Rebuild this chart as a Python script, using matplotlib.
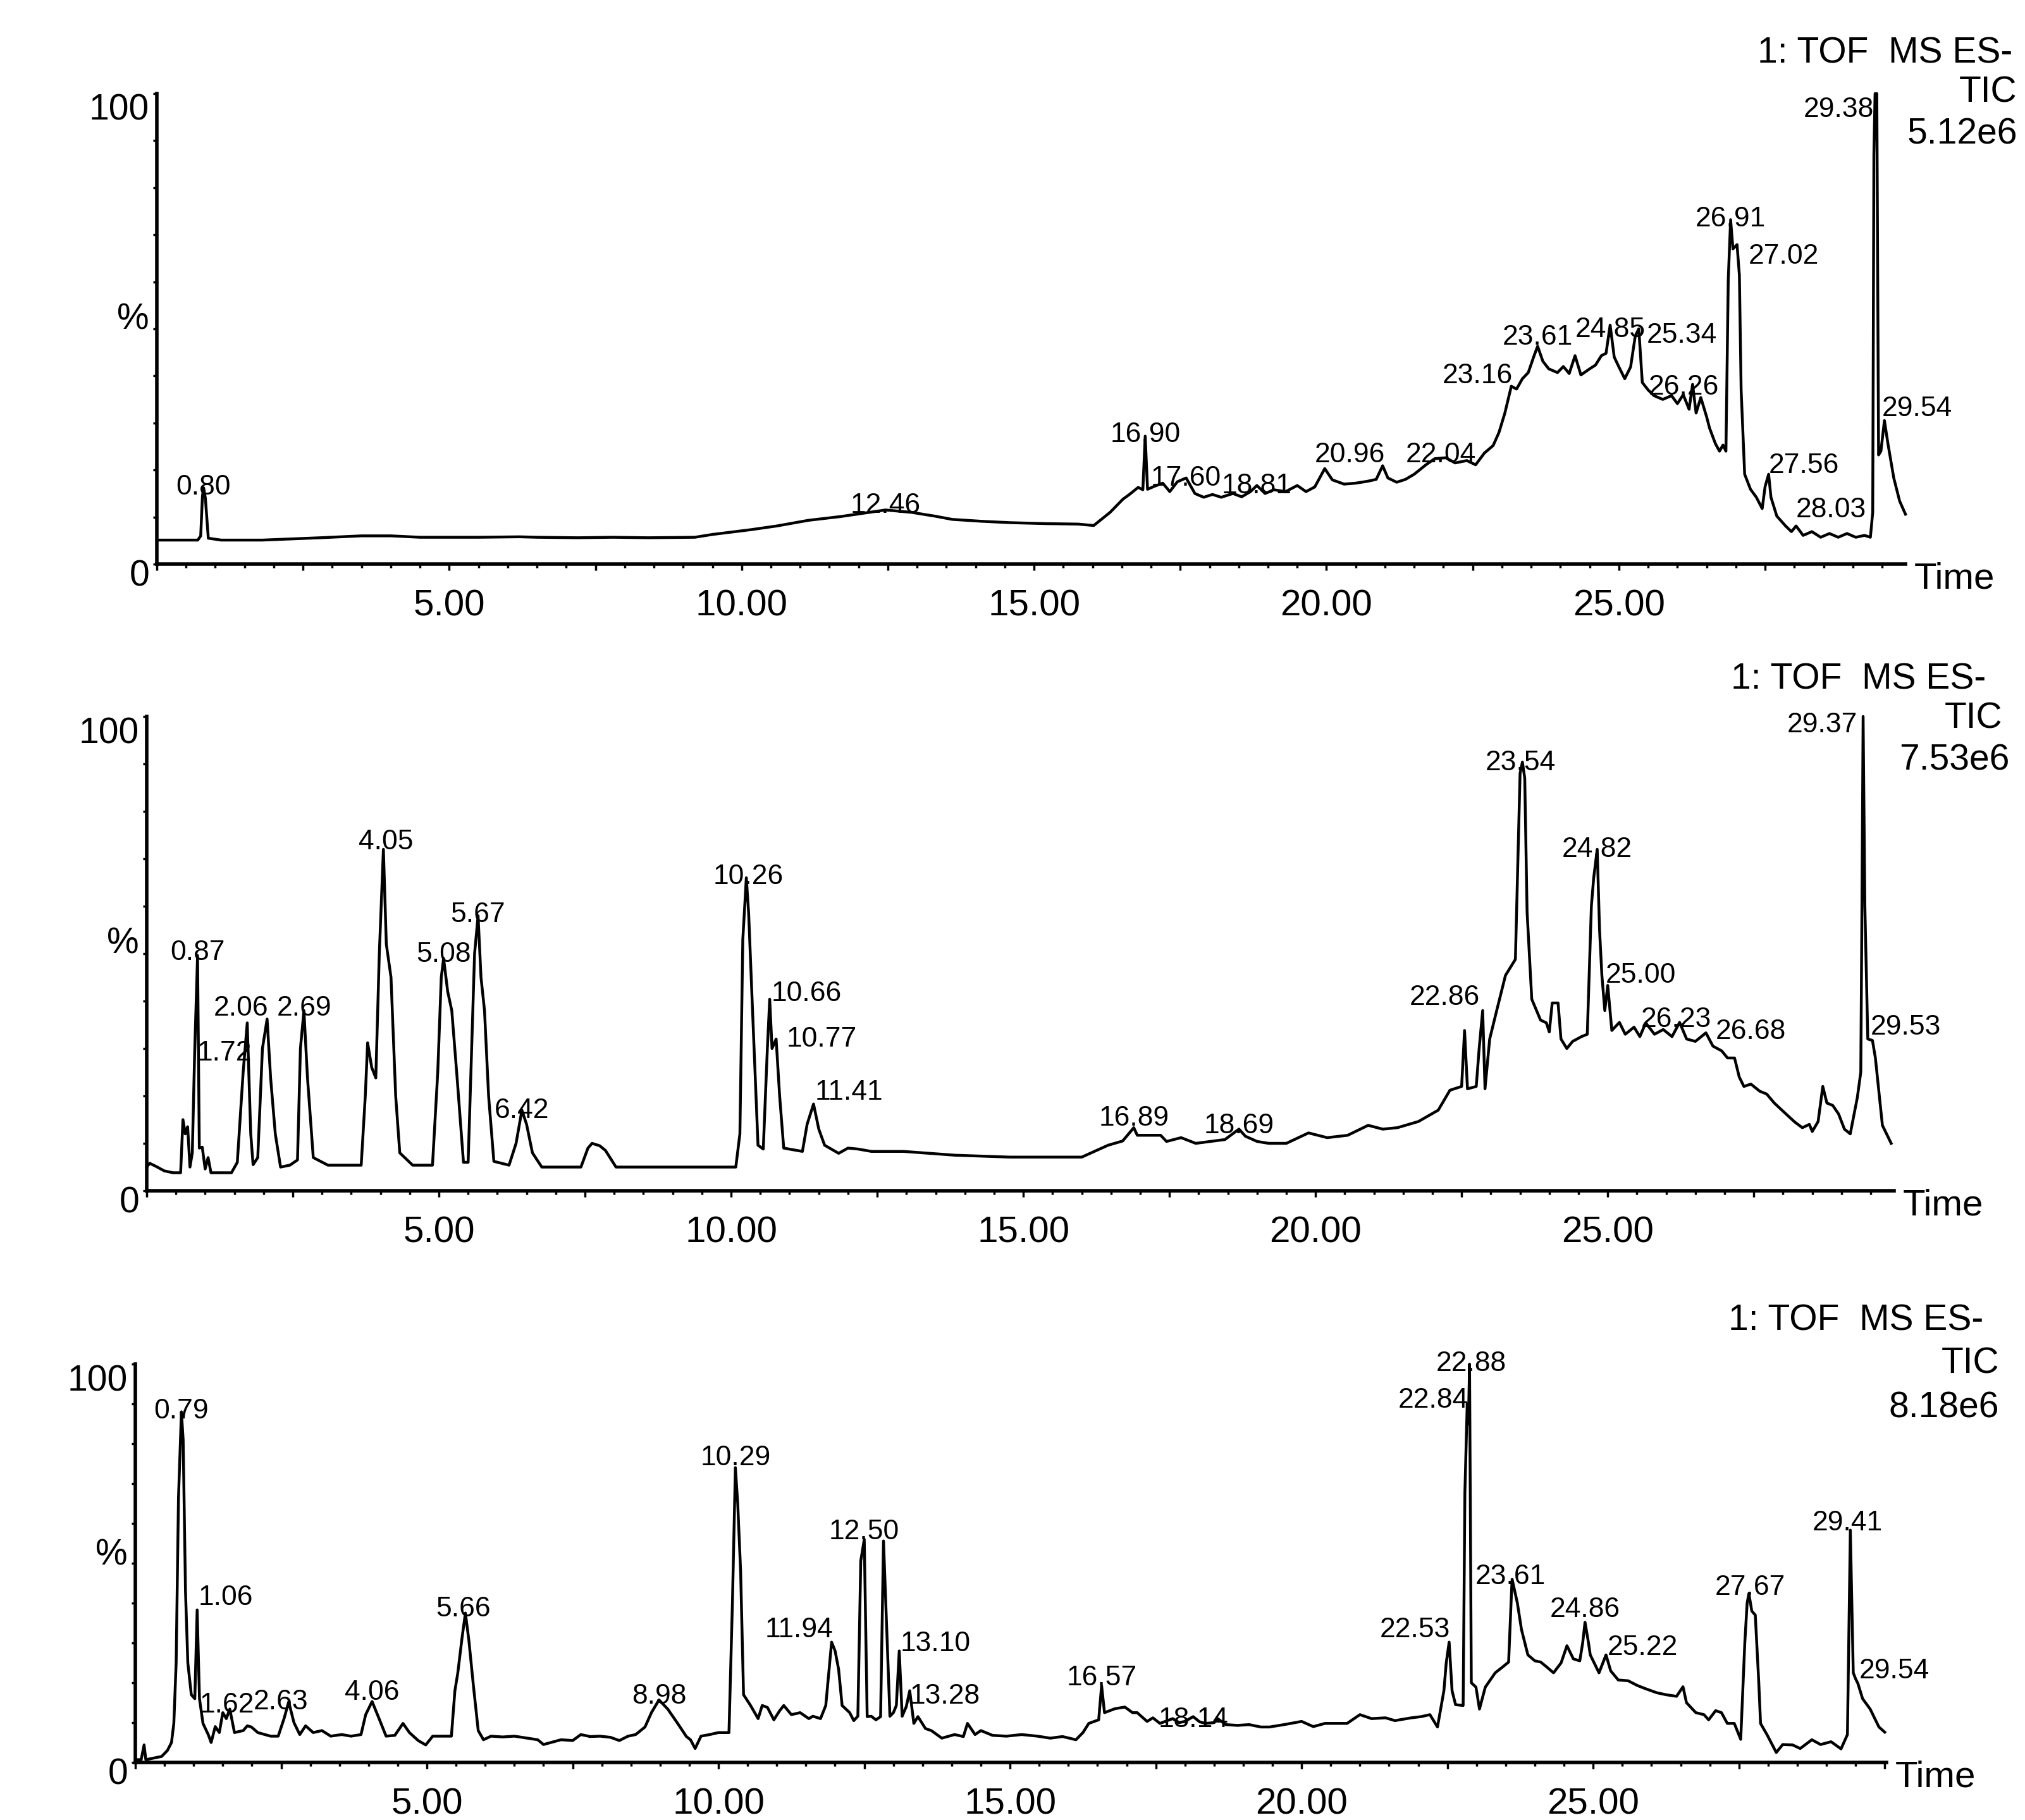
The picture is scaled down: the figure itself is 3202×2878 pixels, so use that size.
import matplotlib
matplotlib.use("Agg")
import matplotlib.pyplot as plt
import matplotlib.transforms as mtransforms
from matplotlib.ticker import MultipleLocator, FuncFormatter
import numpy as np

plt.rcParams['font.family'] = ['Liberation Sans', 'DejaVu Sans']

# ---- chromatogram 1 (TIC 5.12e6) ----
rt_a = [0.00, 0.70, 0.75, 0.78, 0.80, 0.83, 0.88, 1.10, 1.80, 2.80,
        3.50, 4.00, 4.50, 5.50, 6.20, 6.50, 7.20, 7.80, 8.40, 9.20,
        9.50, 10.15, 10.60, 11.14, 11.69, 12.13, 12.46, 12.90, 13.30, 13.60,
        14.10, 14.60, 15.20, 15.75, 16.02, 16.30, 16.52, 16.63, 16.78, 16.86,
        16.90, 16.94, 17.05, 17.20, 17.32, 17.45, 17.60, 17.75, 17.90, 18.05,
        18.20, 18.40, 18.55, 18.70, 18.81, 18.95, 19.10, 19.30, 19.50, 19.65,
        19.80, 19.97, 20.10, 20.30, 20.50, 20.70, 20.85, 20.96, 21.05, 21.20,
        21.35, 21.50, 21.70, 21.85, 22.04, 22.20, 22.40, 22.55, 22.70, 22.85,
        22.95, 23.05, 23.16, 23.25, 23.35, 23.45, 23.55, 23.61, 23.70, 23.80,
        23.95, 24.05, 24.15, 24.25, 24.35, 24.50, 24.60, 24.70, 24.78, 24.85,
        24.92, 25.00, 25.10, 25.20, 25.28, 25.34, 25.40, 25.50, 25.60, 25.75,
        25.90, 26.00, 26.10, 26.20, 26.26, 26.32, 26.40, 26.50, 26.55, 26.65,
        26.72, 26.78, 26.83, 26.87, 26.91, 26.95, 27.02, 27.06, 27.09, 27.15,
        27.25, 27.35, 27.45, 27.50, 27.56, 27.60, 27.70, 27.85, 27.95, 28.03,
        28.15, 28.30, 28.45, 28.60, 28.75, 28.90, 29.05, 29.20, 29.30, 29.34,
        29.36, 29.38, 29.41, 29.44, 29.48, 29.54, 29.60, 29.70, 29.80, 29.90]
tic_a = [5.1, 5.1, 6.0, 14.5, 16.2, 14.0, 5.5, 5.1, 5.1, 5.6,
         6.0, 6.0, 5.7, 5.7, 5.8, 5.7, 5.6, 5.7, 5.6, 5.7,
         6.3, 7.3, 8.1, 9.3, 10.1, 10.9, 11.5, 11.0, 10.2, 9.5,
         9.1, 8.8, 8.6, 8.5, 8.2, 11.0, 13.8, 14.8, 16.3, 15.8,
         27.2, 15.9, 16.5, 17.2, 15.4, 17.5, 18.3, 15.0, 14.2, 14.8,
         14.2, 15.0, 14.3, 15.4, 16.7, 15.0, 15.8, 15.4, 16.7, 15.4,
         16.4, 20.3, 17.9, 17.0, 17.2, 17.6, 18.0, 20.9, 18.3, 17.4,
         18.0, 19.1, 21.1, 22.4, 22.6, 21.5, 22.0, 21.1, 23.6, 25.2,
         28.0, 32.1, 37.8, 37.2, 39.4, 40.7, 44.3, 46.3, 43.1, 41.5,
         40.7, 42.0, 40.5, 44.3, 40.2, 41.5, 42.3, 44.3, 44.8, 50.8,
         44.0, 41.9, 39.4, 41.9, 48.5, 50.0, 38.6, 37.0, 35.8, 35.0,
         35.8, 34.1, 36.0, 32.9, 38.2, 32.1, 35.4, 31.3, 28.9, 25.6,
         24.0, 25.3, 24.0, 60.6, 73.2, 67.0, 67.9, 61.4, 37.0, 19.1,
         15.9, 14.2, 11.8, 16.5, 19.1, 14.2, 10.2, 8.1, 6.9, 8.1,
         6.1, 6.9, 5.7, 6.5, 5.7, 6.5, 5.7, 6.1, 5.7, 11.0,
         87.0, 100.0, 100.0, 23.2, 24.0, 30.5, 25.6, 18.3, 13.4, 10.6]
peaks_a = ["0.80", "12.46", "16.90", "17.60", "18.81", "20.96", "22.04",
           "23.16", "23.61", "24.85", "25.34", "26.26", "26.91", "27.02",
           "27.56", "28.03", "29.38", "29.54"]

# ---- chromatogram 2 (TIC 7.53e6) ----
rt_b = [0.00, 0.05, 0.15, 0.30, 0.45, 0.58, 0.62, 0.66, 0.70, 0.74,
        0.78, 0.82, 0.87, 0.90, 0.95, 1.00, 1.05, 1.10, 1.45, 1.55,
        1.65, 1.72, 1.78, 1.82, 1.90, 1.98, 2.06, 2.12, 2.20, 2.29,
        2.45, 2.58, 2.63, 2.69, 2.75, 2.85, 3.10, 3.67, 3.74, 3.78,
        3.85, 3.92, 3.98, 4.05, 4.10, 4.18, 4.26, 4.33, 4.55, 4.89,
        4.98, 5.04, 5.08, 5.15, 5.22, 5.31, 5.42, 5.50, 5.56, 5.61,
        5.67, 5.72, 5.78, 5.85, 5.94, 6.20, 6.32, 6.42, 6.50, 6.60,
        6.76, 7.43, 7.55, 7.62, 7.75, 7.85, 8.03, 10.08, 10.15, 10.20,
        10.26, 10.30, 10.36, 10.46, 10.55, 10.62, 10.66, 10.70, 10.77, 10.83,
        10.90, 11.22, 11.30, 11.41, 11.50, 11.60, 11.84, 12.00, 12.17, 12.40,
        12.95, 13.83, 14.77, 16.00, 16.45, 16.70, 16.89, 16.95, 17.35, 17.45,
        17.70, 17.95, 18.20, 18.45, 18.69, 18.80, 19.00, 19.20, 19.50, 19.88,
        20.20, 20.55, 20.90, 21.15, 21.40, 21.76, 22.10, 22.30, 22.50, 22.55,
        22.60, 22.75, 22.80, 22.86, 22.90, 22.98, 23.10, 23.25, 23.42, 23.50,
        23.54, 23.58, 23.62, 23.70, 23.85, 23.95, 24.00, 24.05, 24.15, 24.20,
        24.30, 24.40, 24.55, 24.65, 24.72, 24.76, 24.82, 24.86, 24.90, 24.95,
        25.00, 25.07, 25.20, 25.30, 25.45, 25.55, 25.65, 25.80, 25.95, 26.10,
        26.23, 26.35, 26.50, 26.60, 26.68, 26.80, 26.95, 27.05, 27.17, 27.25,
        27.33, 27.45, 27.60, 27.72, 27.85, 28.05, 28.20, 28.33, 28.45, 28.50,
        28.60, 28.68, 28.75, 28.85, 28.95, 29.05, 29.15, 29.27, 29.33, 29.35,
        29.37, 29.40, 29.45, 29.53, 29.58, 29.70, 29.85]
tic_b = [5.0, 5.8, 5.2, 4.2, 3.8, 3.8, 15.0, 12.0, 13.5, 5.0,
         8.0, 29.0, 49.6, 9.0, 9.2, 4.6, 7.0, 3.8, 3.8, 6.0,
         25.0, 35.4, 12.0, 5.5, 7.0, 30.0, 36.2, 23.8, 12.0, 5.0,
         5.4, 6.5, 30.0, 38.0, 24.0, 7.0, 5.4, 5.4, 20.0, 31.2,
         26.0, 23.8, 50.0, 72.0, 52.0, 45.0, 20.0, 8.0, 5.4, 5.4,
         25.0, 45.0, 49.0, 42.0, 38.0, 24.0, 6.0, 6.0, 30.0, 50.0,
         58.0, 45.0, 38.0, 20.0, 6.2, 5.4, 10.0, 17.0, 14.0, 8.0,
         5.0, 5.0, 9.0, 10.0, 9.5, 8.5, 5.0, 5.0, 12.0, 53.0,
         66.0, 58.5, 40.0, 9.6, 8.8, 30.0, 40.4, 30.0, 32.0, 20.0,
         9.0, 8.3, 14.0, 18.3, 13.0, 9.6, 7.9, 9.0, 8.8, 8.3,
         8.3, 7.5, 7.1, 7.1, 9.6, 10.5, 13.3, 11.7, 11.7, 10.4,
         11.2, 10.0, 10.4, 10.8, 13.0, 11.5, 10.4, 10.0, 10.0, 12.2,
         11.2, 11.7, 13.8, 13.0, 13.3, 14.6, 17.0, 21.2, 22.0, 33.8,
         21.5, 22.0, 30.0, 38.0, 21.5, 32.0, 38.0, 45.4, 48.8, 88.0,
         90.4, 87.0, 58.8, 40.4, 36.0, 35.4, 33.5, 39.6, 39.6, 32.0,
         30.0, 31.5, 32.5, 33.0, 60.0, 66.0, 72.0, 55.0, 45.4, 38.0,
         43.3, 33.8, 35.5, 33.0, 34.5, 32.5, 35.4, 33.0, 34.0, 32.5,
         35.5, 32.0, 31.5, 32.5, 33.3, 30.5, 29.5, 28.0, 28.0, 24.0,
         22.0, 22.5, 21.0, 20.4, 18.5, 16.2, 14.5, 13.3, 14.0, 12.5,
         14.6, 22.0, 18.5, 18.0, 16.2, 13.0, 12.0, 19.6, 25.0, 60.0,
         100.0, 60.0, 32.0, 31.7, 28.0, 13.8, 10.0]
peaks_b = ["0.87", "1.72", "2.06", "2.69", "4.05", "5.08", "5.67", "6.42",
           "10.26", "10.66", "10.77", "11.41", "16.89", "18.69", "22.86",
           "23.54", "24.82", "25.00", "26.23", "26.68", "29.37", "29.53"]

# ---- chromatogram 3 (TIC 8.18e6) ----
rt_c = [0.03, 0.10, 0.15, 0.18, 0.45, 0.55, 0.62, 0.66, 0.70, 0.74,
        0.79, 0.82, 0.86, 0.90, 0.96, 1.02, 1.06, 1.10, 1.16, 1.25,
        1.30, 1.37, 1.44, 1.50, 1.56, 1.62, 1.70, 1.85, 1.92, 1.99,
        2.10, 2.32, 2.45, 2.55, 2.63, 2.72, 2.82, 2.92, 3.05, 3.20,
        3.35, 3.54, 3.70, 3.87, 3.95, 4.06, 4.18, 4.30, 4.45, 4.59,
        4.70, 4.85, 4.98, 5.10, 5.30, 5.42, 5.48, 5.53, 5.60, 5.66,
        5.72, 5.80, 5.88, 5.97, 6.10, 6.30, 6.50, 6.90, 7.00, 7.30,
        7.50, 7.64, 7.80, 7.97, 8.15, 8.30, 8.45, 8.58, 8.74, 8.85,
        8.98, 9.13, 9.30, 9.45, 9.52, 9.60, 9.70, 9.85, 10.00, 10.18,
        10.24, 10.29, 10.33, 10.38, 10.43, 10.55, 10.68, 10.75, 10.84, 10.95,
        11.05, 11.12, 11.25, 11.40, 11.55, 11.62, 11.75, 11.84, 11.94, 12.00,
        12.06, 12.12, 12.25, 12.32, 12.39, 12.44, 12.50, 12.55, 12.62, 12.70,
        12.78, 12.83, 12.89, 12.94, 13.00, 13.05, 13.10, 13.15, 13.22, 13.28,
        13.35, 13.42, 13.55, 13.65, 13.83, 14.05, 14.20, 14.27, 14.40, 14.50,
        14.70, 14.94, 15.20, 15.47, 15.69, 15.90, 16.13, 16.25, 16.35, 16.52,
        16.57, 16.62, 16.80, 16.97, 17.10, 17.18, 17.35, 17.45, 17.57, 17.70,
        17.79, 17.90, 18.00, 18.14, 18.25, 18.35, 18.50, 18.56, 18.70, 18.90,
        19.10, 19.30, 19.45, 19.70, 20.00, 20.20, 20.40, 20.56, 20.78, 21.00,
        21.20, 21.44, 21.60, 21.88, 22.05, 22.20, 22.33, 22.44, 22.48, 22.53,
        22.58, 22.64, 22.77, 22.80, 22.84, 22.86, 22.88, 22.91, 22.99, 23.05,
        23.15, 23.32, 23.45, 23.55, 23.60, 23.61, 23.70, 23.77, 23.88, 24.00,
        24.10, 24.20, 24.32, 24.45, 24.55, 24.66, 24.77, 24.82, 24.86, 24.92,
        24.95, 25.05, 25.10, 25.22, 25.30, 25.43, 25.60, 25.76, 25.90, 26.09,
        26.25, 26.43, 26.54, 26.60, 26.76, 26.90, 26.98, 27.10, 27.20, 27.30,
        27.42, 27.53, 27.60, 27.64, 27.67, 27.72, 27.78, 27.84, 27.87, 27.98,
        28.14, 28.25, 28.42, 28.55, 28.75, 28.90, 29.08, 29.25, 29.36, 29.41,
        29.46, 29.50, 29.54, 29.62, 29.75, 29.90, 30.00]
tic_c = [0.7, 0.7, 4.4, 0.7, 1.5, 3.0, 5.0, 9.8, 25.0, 66.5,
         88.0, 81.0, 43.0, 25.0, 17.0, 16.0, 38.3, 16.0, 9.8, 7.0,
         5.0, 9.0, 7.5, 12.5, 11.0, 13.4, 7.5, 8.0, 9.2, 8.9,
         7.5, 6.6, 6.6, 11.0, 15.2, 10.0, 7.0, 9.2, 7.5, 8.0,
         6.6, 7.0, 6.6, 7.0, 12.0, 15.3, 11.0, 6.6, 6.8, 9.8,
         7.5, 5.5, 4.4, 6.6, 6.6, 6.6, 18.0, 22.5, 31.0, 37.5,
         30.6, 18.9, 8.0, 5.7, 6.6, 6.4, 6.6, 5.7, 4.5, 5.7,
         5.5, 7.0, 6.5, 6.6, 6.3, 5.5, 6.6, 7.0, 8.9, 12.5,
         15.7, 13.4, 9.8, 6.5, 5.7, 3.5, 6.6, 7.0, 7.5, 7.5,
         40.6, 74.0, 65.0, 47.9, 17.0, 14.3, 11.0, 14.3, 13.8, 10.7,
         13.0, 14.3, 12.0, 12.5, 11.0, 11.6, 11.0, 14.3, 30.2, 28.0,
         23.4, 14.3, 12.5, 10.5, 11.6, 50.6, 56.0, 11.5, 11.6, 10.7,
         11.5, 55.6, 31.5, 11.6, 12.5, 14.3, 28.0, 11.6, 14.0, 18.0,
         9.8, 11.5, 8.5, 8.0, 6.1, 7.0, 6.5, 9.8, 7.0, 8.0,
         6.8, 6.6, 7.0, 6.6, 6.1, 6.5, 5.7, 7.5, 9.8, 10.7,
         19.3, 12.5, 13.5, 13.9, 12.5, 12.5, 10.3, 11.2, 9.8, 10.5,
         11.0, 10.0, 10.3, 11.5, 10.2, 9.8, 10.0, 11.0, 9.5, 9.3,
         9.5, 8.9, 8.9, 9.5, 10.3, 9.0, 9.8, 9.8, 9.8, 12.0,
         11.0, 11.2, 10.5, 11.2, 11.5, 12.0, 8.9, 18.0, 25.0, 30.2,
         18.0, 14.5, 14.3, 67.8, 90.0, 85.0, 100.0, 20.0, 18.9, 13.4,
         18.9, 22.5, 24.0, 25.2, 43.0, 46.0, 40.0, 33.4, 27.0, 25.5,
         25.2, 24.0, 22.5, 25.0, 29.3, 26.0, 25.5, 30.0, 35.2, 30.0,
         27.0, 24.0, 22.5, 27.0, 23.0, 20.7, 20.5, 19.3, 18.5, 17.5,
         17.0, 16.6, 19.0, 15.0, 12.5, 12.0, 10.7, 13.0, 12.5, 9.8,
         9.8, 5.8, 30.0, 40.0, 42.4, 38.0, 37.0, 20.0, 9.8, 7.0,
         2.5, 4.5, 4.4, 3.5, 5.7, 4.5, 5.2, 3.4, 7.0, 58.3,
         22.5, 21.0, 19.8, 16.0, 13.4, 8.9, 7.6]
peaks_c = ["0.79", "1.06", "1.62", "2.63", "4.06", "5.66", "8.98", "10.29",
           "11.94", "12.50", "13.10", "13.28", "16.57", "18.14", "22.53",
           "22.84", "22.88", "23.61", "24.86", "25.22", "27.67", "29.41",
           "29.54"]

headers = [["1: TOF  MS ES-", "TIC", "5.12e6"],
           ["1: TOF  MS ES-", "TIC", "7.53e6"],
           ["1: TOF  MS ES-", "TIC", "8.18e6"]]
labelled_times = [5, 10, 15, 20, 25]

# label placement: (ha, dx in px, dy in %)
layout_a = [("center", 0, -1.4), ("center", 0, -0.6), ("center", 0, -1.2),
            ("center", 0, -1.6), ("center", 0, -1.7), ("right", 4, 0.8),
            ("center", -8, -0.9), ("right", 2, 0.6), ("center", 0, 0.3),
            ("center", 0, -2.6), ("left", 12, -3.0), ("center", -14, -2.2),
            ("center", 0, -1.4), ("left", 18, -4.1), ("left", 0, 0.2),
            ("left", 0, 1.8), ("right", -2, -5.0), ("left", -4, 1.0)]
layout_b = [("center", 0, -0.9), ("right", 7, -7.9), ("right", 2, 0.8),
            ("center", 0, -1.0), ("center", 4, 0.0), ("center", 0, -0.7),
            ("center", 0, -1.3), ("center", 0, -1.6), ("center", 3, -1.4),
            ("left", 3, -0.4), ("left", 16, -1.6), ("left", 2, 0.9),
            ("center", 0, 0.4), ("center", 0, -0.9), ("right", -4, 1.2),
            ("center", -3, -1.7), ("center", 0, -1.6), ("left", -3, 0.5),
            ("center", -5, -0.9), ("left", 15, -1.3), ("right", -9, -3.3),
            ("left", -3, 1.3)]
layout_c = [("center", 0, -1.6), ("left", 2, 1.2), ("center", -5, -0.9),
            ("center", -12, -1.9), ("center", 0, 0.4), ("center", -3, -0.9),
            ("center", 0, -0.9), ("center", 0, 0.6), ("right", 2, 1.3),
            ("center", 0, 0.0), ("left", 2, -0.1), ("left", 0, -3.2),
            ("center", 0, 0.0), ("center", 0, -2.6), ("right", 2, 1.3),
            ("right", 2, -0.9), ("center", 3, -1.8), ("center", -3, -1.3),
            ("center", 0, 1.3), ("left", 2, 0.0), ("center", 2, -0.4),
            ("center", -5, 0.0), ("left", 2, 1.3)]

W, H = 3202, 2878
fig = plt.figure(figsize=(W / 100, H / 100), dpi=100)

# axes frame in pixels: left, right, top(100 %), bottom(0 %), x-range end
frames = [(248, 3013, 148, 892, 29.9),
          (232, 2995, 1133, 1883, 29.9),
          (214, 2983, 2157, 2787, 30.03)]
# header text: right edges of the three lines and their baselines (px)
header_x = [(3182, 3189, 3190), (3140, 3166, 3177), (3136, 3161, 3161)]
header_y = [(100, 161, 228), (1089, 1152, 1217), (2103, 2172, 2241)]

traces = [(rt_a, tic_a, peaks_a, layout_a),
          (rt_b, tic_b, peaks_b, layout_b),
          (rt_c, tic_c, peaks_c, layout_c)]


def time_label(v, pos):
    # only the 5-minute ticks carry a number
    for t in labelled_times:
        if abs(v - t) < 1e-6:
            return f"{v:.2f}"
    return ""


for i, (rt, tic, peaks, layout) in enumerate(traces):
    assert len(rt) == len(tic)
    left, right, top, bottom, xmax = frames[i]
    ax = fig.add_axes([left / W, 1 - bottom / H, (right - left) / W, (bottom - top) / H])
    ax.plot(rt, tic, color='black', lw=3.2, clip_on=False,
            solid_joinstyle='round')
    ax.set_xlim(0, xmax)
    ax.set_ylim(0, 100)

    for side in ['top', 'right']:
        ax.spines[side].set_visible(False)
    for side in ['left', 'bottom']:
        ax.spines[side].set_linewidth(4)

    ax.xaxis.set_major_locator(MultipleLocator(2.5))
    ax.xaxis.set_minor_locator(MultipleLocator(0.5))
    ax.xaxis.set_major_formatter(FuncFormatter(time_label))
    ax.tick_params(axis='x', which='major', direction='out', length=7.5, width=2.5,
                   labelsize=42, pad=21)
    ax.tick_params(axis='x', which='minor', direction='out', length=4, width=2.5)
    ax.yaxis.set_major_locator(MultipleLocator(10))
    ax.tick_params(axis='y', which='both', direction='out', length=4, width=2.5,
                   labelleft=False)

    # y axis labels
    ytr = mtransforms.offset_copy(ax.get_yaxis_transform(), fig=fig, x=-12, y=0, units='dots')
    ytr0 = mtransforms.offset_copy(ax.get_yaxis_transform(), fig=fig, x=-12, y=8, units='dots')
    ax.text(0, 100, "100", ha='right', va='top', fontsize=41, transform=ytr)
    ax.text(0, 52, "%", ha='right', va='center', fontsize=41, transform=ytr)
    ax.text(0, 0, "0", ha='right', va='top', fontsize=41, transform=ytr0)

    ttr = mtransforms.offset_copy(ax.transAxes, fig=fig, x=14, y=4, units='dots')
    ax.text(1, 0, "Time", ha='left', va='top', fontsize=42, transform=ttr)

    # peak labels
    for txt, (ha, dx, dy) in zip(peaks, layout):
        t = float(txt)
        y = np.interp(t, rt, tic) + dy
        tr = mtransforms.offset_copy(ax.transData, fig=fig, x=dx, y=0, units='dots')
        ax.text(t, y, txt, ha=ha, va='baseline', fontsize=32, transform=tr, clip_on=False)

    # header
    for line, hx, hy in zip(headers[i], header_x[i], header_y[i]):
        fig.text(hx / W, 1 - hy / H, line, ha='right', va='baseline', fontsize=41)

fig.savefig("out.png", dpi=100, facecolor='white')
